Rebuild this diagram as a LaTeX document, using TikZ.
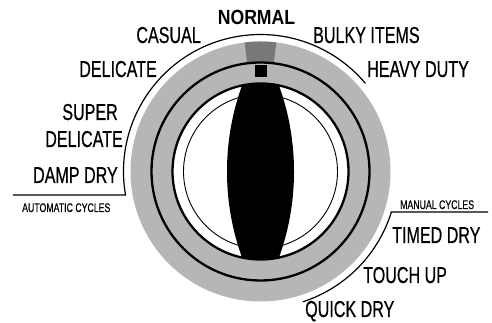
\documentclass[tikz,border=0pt]{standalone}
\usepackage{fontspec}
\setmainfont{Liberation Sans}[FakeStretch=0.70, FakeBold=0.5]
\newfontfamily\dialbold{Liberation Sans}[FakeStretch=0.86]
\usetikzlibrary{positioning,calc}
\definecolor{cRing}{RGB}{182,182,182}
\definecolor{cMark}{RGB}{120,120,120}

\begin{document}
\begin{tikzpicture}[
  x=1pt, y=1pt,
  lbl/.style    = {font=\fontsize{23}{27}\selectfont, inner sep=0pt},
  tag/.style    = {font=\fontsize{12.5}{15}\selectfont, inner sep=0pt},
  leader/.style = {line width=1.2pt},
  ring/.style   = {line width=2.3pt}
]
\fill[white] (0,0) rectangle (492,323);
\useasboundingbox (0,0) rectangle (492,323);

% ---------------------------------------------------------------- il quadrante --
\coordinate (c) at (260.5,151.5);
\fill[cRing] (c) circle[radius=130];
\fill[cMark] ($(c)+(83:109)$) arc[start angle=83, end angle=97, radius=109]
  -- ($(c)+(97:130)$) arc[start angle=97, end angle=83, radius=130] -- cycle;
\fill[white] (c) circle[radius=88];
\draw[line width=0.9pt] (c) circle[radius=77];

% la manopola
\begin{scope}
  \clip (c) circle[radius=88];
  \clip ($(c)+(219.25,0)$) circle[radius=252.75];
  \fill ($(c)-(219.25,0)$) circle[radius=252.75];
\end{scope}
\draw[ring] (c) circle[radius=109];
\draw[ring] (c) circle[radius=88];
\node[fill=black, minimum size=12pt, inner sep=0pt] (tip) at ($(c)+(0,100.5)$) {};

% ------------------------------------------------------------------- linee --
\coordinate (autoW) at (13,128);
\coordinate (manE)  at (488,111);
\draw[leader] (autoW) -- ($(c)+(189.9:137)$) arc[start angle=189.9, end angle=40, radius=137];
\draw[leader] (manE)  -- ($(c)+(-17.2:137)$) arc[start angle=-17.2, end angle=-72, radius=137];

% ------------------------------------------------------------------ etichette --
\node[inner sep=0pt, anchor=base, font=\dialbold\bfseries\fontsize{20.5}{24}\selectfont]
  (normal) at (256.5,298) {NORMAL};
\node[lbl, anchor=base east] (casual)   at (201,280) {CASUAL};
\node[lbl, anchor=base east] (delicate) at (157,246) {DELICATE};
\node[lbl, anchor=base east] (super)    at (118,203) {SUPER};
\node[lbl, anchor=base east] (superdel) at (123,176) {DELICATE};
\node[lbl, anchor=base east] (damp)     at (118,140) {DAMP DRY};
\node[tag, anchor=base west] (auto)     at (22,111)  {AUTOMATIC CYCLES};

\node[lbl, anchor=base west] (bulky)    at (313,280) {BULKY ITEMS};
\node[lbl, anchor=base west] (heavy)    at (367,246) {HEAVY DUTY};
\node[tag, anchor=base west] (manual)   at (400,114) {MANUAL CYCLES};
\node[lbl, anchor=base west] (timed)    at (392,80)  {TIMED DRY};
\node[lbl, anchor=base west] (touch)    at (363,40)  {TOUCH UP};
\node[lbl, anchor=base west] (quick)    at (305,6)   {QUICK DRY};

\end{tikzpicture}
\end{document}
